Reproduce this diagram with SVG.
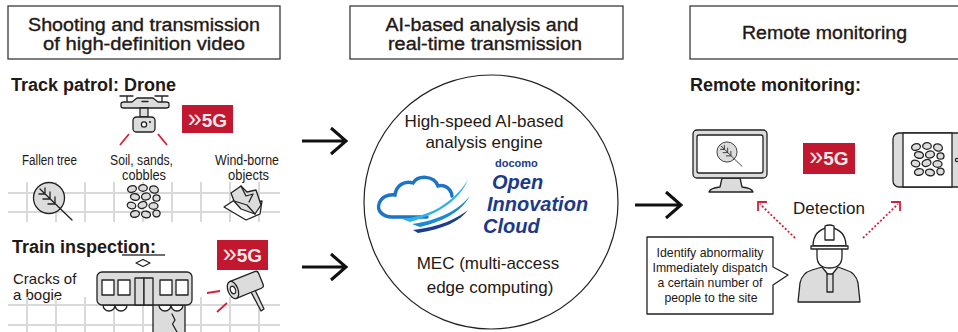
<svg xmlns="http://www.w3.org/2000/svg" width="958" height="332" viewBox="0 0 958 332">
  <style>
    text { font-family: "Liberation Sans", Arial, sans-serif; fill: #231815; }
    .hd { font-size: 18px; text-anchor: middle; stroke: #231815; stroke-width: 0.35; }
    .lbl { font-size: 18px; font-weight: bold; }
    .sm { font-size: 14px; text-anchor: middle; }
    .bub { font-size: 13px; text-anchor: middle; }
    .mid { font-size: 17px; text-anchor: middle; }
    .box { fill: #fff; stroke: #3a3a3a; stroke-width: 1.3; }
    .ic { fill: #dcdcdc; stroke: #222; stroke-width: 1.3; stroke-linejoin: round; }
    .icw { fill: #fff; stroke: #222; stroke-width: 1.3; stroke-linejoin: round; }
    .ln { fill: none; stroke: #222; stroke-width: 1.3; stroke-linecap: round; stroke-linejoin: round; }
    .grid { stroke: #d9d9d9; stroke-width: 2; }
    .red { stroke: #d5213a; stroke-width: 1.8; fill: none; }
    .dot { stroke: #d5213a; stroke-width: 1.8; fill: none; stroke-dasharray: 2 2; }
    .badge { fill: #c1172f; }
    .bt { font-size: 19px; font-weight: bold; fill: #fbe8ea; text-anchor: middle; }
    .chev { font-size: 25px; font-weight: normal; }
    .arrow { fill: none; stroke: #111; stroke-width: 3; }
    .logo { fill: #1b3a8c; font-weight: bold; font-style: italic; font-size: 20px; }
  </style>
  <defs>
    <!-- leaf in a circle -->
    <g id="leaf">
      <circle r="15.5" class="ic"/>
      <path class="ln" d="M-9,-9 L23,22 M-10,-4 L-4,-4 L-4,-10 M-6,1 L1,1 L1,-6 M-1,6 L6,6 L6,-1"/>
    </g>
    <!-- cluster of stones -->
    <g id="rocks" class="ic">
      <ellipse cx="5" cy="4" rx="4.5" ry="3.3" transform="rotate(-15 5 4)"/>
      <ellipse cx="16" cy="3" rx="4.3" ry="3.3"/>
      <ellipse cx="27" cy="4.5" rx="4.5" ry="3.5" transform="rotate(20 27 4.5)"/>
      <ellipse cx="8" cy="12" rx="4.5" ry="3.3" transform="rotate(10 8 12)"/>
      <ellipse cx="19" cy="11.5" rx="4.5" ry="3.5" transform="rotate(-10 19 11.5)"/>
      <ellipse cx="29.5" cy="13" rx="3.5" ry="3.2"/>
      <ellipse cx="4.5" cy="20.5" rx="4.3" ry="3.3" transform="rotate(15 4.5 20.5)"/>
      <ellipse cx="15.5" cy="20" rx="4.5" ry="3.4" transform="rotate(-20 15.5 20)"/>
      <ellipse cx="26.5" cy="21" rx="4.5" ry="3.3"/>
      <ellipse cx="8" cy="29" rx="4.5" ry="3.3" transform="rotate(-10 8 29)"/>
      <ellipse cx="19" cy="29.5" rx="4.5" ry="3.3" transform="rotate(10 19 29.5)"/>
      <ellipse cx="29.5" cy="28.5" rx="3.6" ry="3.4"/>
    </g>
  </defs>

  <!-- column headers -->
  <g id="header-shooting">
    <rect class="box" x="8" y="6" width="272" height="53"/>
    <text class="hd" x="144" y="31" textLength="232" lengthAdjust="spacingAndGlyphs">Shooting and transmission</text>
    <text class="hd" x="144" y="49.5" textLength="202" lengthAdjust="spacingAndGlyphs">of high-definition video</text>
  </g>
  <g id="header-analysis">
    <rect class="box" x="350" y="6" width="273" height="53"/>
    <text class="hd" x="482" y="31" textLength="193" lengthAdjust="spacingAndGlyphs">AI-based analysis and</text>
    <text class="hd" x="485" y="49.5" textLength="194" lengthAdjust="spacingAndGlyphs">real-time transmission</text>
  </g>
  <g id="header-remote">
    <rect class="box" x="690" y="6" width="270" height="53"/>
    <text class="hd" x="824.5" y="39" textLength="165" lengthAdjust="spacingAndGlyphs">Remote monitoring</text>
  </g>

  <!-- track patrol by drone -->
  <g id="track-patrol">
    <text class="lbl" x="11" y="91">Track patrol: Drone</text>
    <g class="grid">
      <path d="M8,193 H280 M8,212 H280"/>
      <path d="M27,182 V222 M56,182 V222 M85,182 V222 M114,182 V222 M143,182 V222 M172,182 V222 M201,182 V222 M230,182 V222 M259,182 V222"/>
    </g>
    <g id="drone">
      <path class="ln" d="M120,96 H133 M155,96 H168 M127,96 V102 M162,96 V102"/>
      <path class="ic" d="M121,104 Q121,102 124,102 L132,102 L137,98 L153,98 L158,102 L166,102 Q169,102 169,104 L169,106 Q169,108 166,108 L124,108 Q121,108 121,106 Z"/>
      <path class="ln" d="M142,101.5 H148"/>
      <rect class="ic" x="140" y="108" width="8" height="9"/>
      <rect class="ic" x="133" y="117" width="22" height="15" rx="3.5"/>
      <circle class="icw" cx="144" cy="124.5" r="2.6"/>
      <circle cx="150" cy="122" r="1" fill="#222"/>
      <path class="red" d="M120,145 L129,134 M158,134 L167,145"/>
    </g>
    <g id="badge-drone">
      <rect class="badge" x="182" y="105" width="51" height="28"/>
      <text class="bt" x="207.5" y="126.5"><tspan class="chev">»</tspan>5G</text>
    </g>
    <g id="fallen-tree">
      <text class="sm" x="49.5" y="165" textLength="55" lengthAdjust="spacingAndGlyphs">Fallen tree</text>
      <use href="#leaf" transform="translate(49,198)"/>
    </g>
    <g id="soil">
      <text class="sm" x="141.5" y="165" textLength="63" lengthAdjust="spacingAndGlyphs">Soil, sands,</text>
      <text class="sm" x="144" y="180" textLength="44" lengthAdjust="spacingAndGlyphs">cobbles</text>
      <use href="#rocks" transform="translate(127,185)"/>
    </g>
    <g id="wind-borne">
      <text class="sm" x="247" y="165" textLength="64" lengthAdjust="spacingAndGlyphs">Wind-borne</text>
      <text class="sm" x="248.5" y="180" textLength="41" lengthAdjust="spacingAndGlyphs">objects</text>
      <path class="icw" d="M224,207 L236,199 L250,203 L262,201 L260,214 L246,220 Z"/>
      <path class="ic" d="M231,193 L241,186 L247,192 L256,190 L261,205 L255,214 L241,209 L234,201 Z"/>
      <path class="ln" d="M241,186 L246,196 L253,194 L249,202 M234,201 L247,205 L255,214"/>
    </g>
  </g>

  <!-- train inspection -->
  <g id="train-inspection">
    <text class="lbl" x="12" y="253">Train inspection:</text>
    <text x="13" y="284" font-size="15">Cracks of</text>
    <text x="13" y="300" font-size="15">a bogie</text>
    <g class="grid">
      <path d="M8,305 H280 M8,325 H280"/>
      <path d="M27,297 V332 M56,297 V332 M85,297 V332 M114,297 V332 M143,297 V332 M172,297 V332 M201,297 V332 M230,297 V332 M259,297 V332"/>
    </g>
    <g id="train">
      <path d="M122,255 H165" stroke="#6f6f6f" stroke-width="2"/>
      <path class="icw" d="M143,259.5 L150,263 L143,266.5 L136,263 Z"/>
      <rect class="ic" x="153" y="300" width="32" height="35"/>
      <path class="ln" d="M172,314 L175,320 L172.5,324 L177,332"/>
      <path class="icw" d="M103,305 A6,6 0 0 0 115,305 A6,6 0 0 0 127,305 Z M159,305 A6,6 0 0 0 171,305 A6,6 0 0 0 183,305 Z"/>
      <rect class="ic" x="97" y="272" width="95" height="33" rx="5"/>
      <g class="icw">
        <rect x="102" y="280" width="12" height="15"/>
        <rect x="118" y="280" width="12" height="15"/>
        <rect x="160" y="280" width="12" height="15"/>
        <rect x="176" y="280" width="12" height="15"/>
      </g>
      <rect class="ic" x="135" y="278" width="9" height="27"/>
      <rect class="ic" x="144" y="278" width="9" height="27"/>
    </g>
    <g id="badge-train">
      <rect class="badge" x="217" y="240" width="51" height="30"/>
      <text class="bt" x="242.5" y="262"><tspan class="chev">»</tspan>5G</text>
    </g>
    <g id="camera">
      <path class="red" d="M207,293 L220,291 M217,312 L227,303"/>
      <path class="ic" d="M251,292 L255,290 L264,309 L261,311 Z"/>
      <g transform="translate(233,290) rotate(-22)">
        <path class="ic" d="M0,-9 H27 Q30,-9 30,-6 V6 Q30,9 27,9 H0 Z"/>
        <ellipse class="ic" cx="0" cy="0" rx="5" ry="9"/>
        <ellipse class="icw" cx="0" cy="0" rx="2.5" ry="4"/>
      </g>
    </g>
  </g>

  <!-- analysis engine -->
  <g id="analysis">
    <circle cx="491" cy="202" r="127" fill="#fff" stroke="#222" stroke-width="1.2"/>
    <text class="mid" x="484" y="127">High-speed AI-based</text>
    <text class="mid" x="484" y="148">analysis engine</text>
    <g id="cloud-logo">
      <path d="M427,217 L392,217 C382,217 377,210 379,204 C381,197 388,194 395,195 C396,186 404,180 413,183 C418,175 434,175 438,186 C444,184 451,188 452,196" fill="none" stroke="#1d74c6" stroke-width="3.4" stroke-linecap="round"/>
      <path d="M402,219 C430,216 452,204 468,180 C460,198 442,213 410,222 Z" fill="#2fb2e8"/>
      <path d="M412,224 C440,220 458,210 470,196 C462,210 446,221 420,227 Z" fill="#1a8ad4"/>
      <path d="M413,230 C440,227 458,218 468,210 C460,221 444,229 418,233 Z" fill="#1b3e8e"/>
      <text x="495" y="167" font-size="11" font-weight="bold" style="fill:#1b3a8c">docomo</text>
      <text class="logo" x="492" y="189" style="fill:#1b3a8c">Open</text>
      <text class="logo" x="487" y="211" style="fill:#1b3a8c">Innovation</text>
      <text class="logo" x="483" y="233" style="fill:#1b3a8c">Cloud</text>
    </g>
    <text class="mid" x="488" y="269">MEC (multi-access</text>
    <text class="mid" x="490" y="293">edge computing)</text>
  </g>

  <!-- remote monitoring -->
  <g id="remote">
    <text class="lbl" x="690" y="91">Remote monitoring:</text>
    <g id="monitor">
      <path class="ic" d="M722,178 L740,178 L742,187 Q752,188 753,192 L709,192 Q710,188 720,187 Z"/>
      <rect class="ic" x="693" y="130" width="74" height="48" rx="4"/>
      <rect class="icw" x="697" y="135" width="66" height="38" rx="2"/>
      <use href="#leaf" transform="translate(727,152) scale(0.65)"/>
    </g>
    <g id="badge-remote">
      <rect class="badge" x="803" y="143" width="52" height="31"/>
      <text class="bt" x="829" y="165"><tspan class="chev">»</tspan>5G</text>
    </g>
    <g id="tablet">
      <rect class="ic" x="893" y="133" width="80" height="54" rx="6"/>
      <rect class="icw" x="903" y="133" width="49" height="54"/>
      <circle class="icw" cx="957" cy="160" r="1.6"/>
      <use href="#rocks" transform="translate(911,143)"/>
    </g>
    <text class="mid" x="829" y="214">Detection</text>
    <g id="worker">
      <path class="ic" d="M798,302 L800,283 Q802,273 812,270 L822,267 L830,277 L838,267 L846,270 Q856,273 858,283 L860,302 Z"/>
      <path class="ic" d="M827,274 L833,274 L833,292 L827,292 Z"/>
      <path class="icw" d="M817,248 L817,256 Q817,268 829.5,268 Q842,268 842,256 L842,248 Z"/>
      <path class="icw" d="M813,246 Q813,230 829.5,227 Q846,230 846,246 Z"/>
      <path class="icw" d="M825,226 Q829.5,224 834,226 L834,240 L825,240 Z"/>
      <path class="icw" d="M811,246 H848 V249 H811 Z"/>
    </g>
    <g id="bubble">
      <path class="icw" d="M647,237 H773 V267 L788,275 L773,285 V314 H647 Z"/>
      <text class="bub" x="710" y="257" textLength="107" lengthAdjust="spacingAndGlyphs">Identify abnormality</text>
      <text class="bub" x="710" y="272" textLength="115" lengthAdjust="spacingAndGlyphs">Immediately dispatch</text>
      <text class="bub" x="710" y="287" textLength="105" lengthAdjust="spacingAndGlyphs">a certain number of</text>
      <text class="bub" x="711" y="301.5" textLength="93" lengthAdjust="spacingAndGlyphs">people to the site</text>
    </g>
  </g>

  <!-- connectors -->
  <g id="connectors">
    <path class="arrow" d="M302,141 H345 M331,128 L346,141 L331,154"/>
    <path class="arrow" d="M302,267 H345 M331,254 L346,267 L331,280"/>
    <path class="arrow" d="M635,205 H681 M666,192 L681,205 L666,218"/>
    <path class="dot" d="M795,238 L760,204"/>
    <path class="red" d="M767,202 H758 V211"/>
    <path class="dot" d="M863,238 L898,204"/>
    <path class="red" d="M891,202 H900 V211"/>
  </g>
</svg>
